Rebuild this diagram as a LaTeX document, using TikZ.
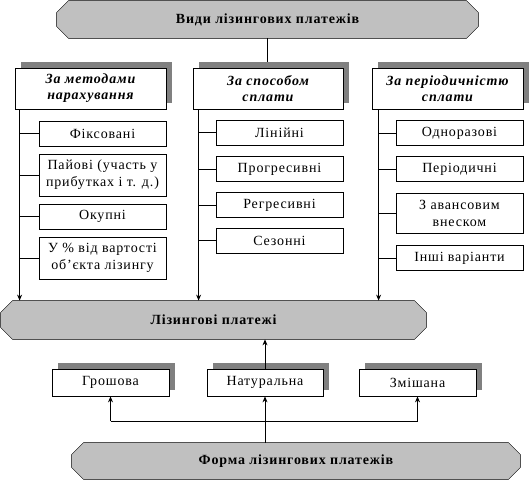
\documentclass[tikz,border=0pt]{standalone}
\usepackage{fontspec}
\setmainfont{Liberation Serif}[LetterSpace=6]
\usetikzlibrary{shadows,arrows.meta,calc,backgrounds}
\definecolor{octgray}{HTML}{C0C0C0}
\definecolor{shgray}{HTML}{808080}
\newcommand\octpath[1]{%
  \filldraw[fill=octgray,draw=black]
    ($(#1.north west)+(12,0)$) -- ($(#1.north east)+(-12,0)$) --
    ($(#1.north east)+(0,12)$) -- ($(#1.south east)+(0,-12)$) --
    ($(#1.south east)+(-12,0)$) -- ($(#1.south west)+(12,0)$) --
    ($(#1.south west)+(0,-12)$) -- ($(#1.north west)+(0,12)$) -- cycle;}
\begin{document}
\begin{tikzpicture}[x=1pt,y=-1pt,line width=0.8pt,
  octnode/.style={inner sep=0pt,font=\bfseries\fontsize{14}{16}\selectfont},
  box/.style={draw,fill=white,inner sep=0pt,align=center,font=\fontsize{14}{17}\selectfont},
  shbox/.style={box,drop shadow={shadow xshift=6pt,shadow yshift=6pt,fill=shgray,opacity=1}},
  hdr/.style={shbox,minimum height=41pt,font=\bfseries\itshape\fontsize{14}{16}\selectfont},
  sub/.style={box,minimum width=127pt,minimum height=25pt},
  dbl/.style={minimum height=42pt},
  form/.style={shbox,minimum height=27pt},
  arr/.style={-{Stealth[length=6pt,width=5pt]}}
]
\useasboundingbox (0,0) rectangle (530,481);

% top octagon
\node[octnode,minimum width=421pt,minimum height=37pt] (top) at (267.5,19.5) {Види лізингових платежів};

% category headers
\node[hdr,minimum width=151pt] (c1) at (90.5,88.5) {За методами\\нарахування};
\node[hdr,minimum width=150pt] (c2) at (268,88.5) {За способом\\сплати};
\node[hdr,minimum width=151pt] (c3) at (447.5,88.5) {За періодичністю\\сплати};

% column 1
\node[sub] (f1) at (102.5,133.5) {Фіксовані};
\node[sub,dbl] (f2) at (102.5,175) {Пайові (участь у\\прибутках і т. д.)};
\node[sub] (f3) at (102.5,216.5) {Окупні};
\node[sub,dbl] (f4) at (102.5,258) {У \% від вартості\\об’єкта лізингу};

% column 2
\node[sub] (s1) at (279.5,132.5) {Лінійні};
\node[sub] (s2) at (279.5,169) {Прогресивні};
\node[sub] (s3) at (279.5,205) {Регресивні};
\node[sub] (s4) at (279.5,240.5) {Сезонні};

% column 3
\node[sub] (p1) at (459.5,133) {Одноразові};
\node[sub] (p2) at (459.5,169) {Періодичні};
\node[sub,minimum height=40pt] (p3) at (459.5,213) {З авансовим\\внеском};
\node[sub] (p4) at (459.5,258) {Інші варіанти};

% lower part
\node[octnode,minimum width=425pt,minimum height=38pt] (lp) at (213.5,320) {Лізингові платежі};
\node[form,minimum width=117pt] (g1) at (110.5,382.5) {Грошова};
\node[form,minimum width=116pt] (g2) at (265,382.5) {Натуральна};
\node[form,minimum width=117pt] (g3) at (417.5,382.5) {Змішана};
\node[octnode,minimum width=448pt,minimum height=36pt] (forma) at (296,461) {Форма лізингових платежів};

\begin{scope}[on background layer]
  \octpath{top}
  \octpath{lp}
  \octpath{forma}
\end{scope}

% connectors top
\coordinate (c2sh) at ($(c2.north)+(0,-6)$);
\draw (top.south) -- (top.south |- c2sh);

\coordinate (t1) at ($(c1.south west)+(5,0)$);
\coordinate (t2) at ($(c2.south west)+(6,0)$);
\coordinate (t3) at ($(c3.south west)+(7,0)$);
\draw[arr] (t1) -- (t1 |- lp.north);
\draw[arr] (t2) -- (t2 |- lp.north);
\draw[arr] (t3) -- (t3 |- lp.north);

\foreach \b in {f1,f2,f3,f4} \draw (\b.west) -- (\b.west -| t1);
\foreach \b in {s1,s2,s3,s4} \draw (\b.west) -- (\b.west -| t2);
\foreach \b in {p1,p2,p3,p4} \draw (\b.west) -- (\b.west -| t3);

% connectors bottom
\draw[arr] (g2.north) -- (g2.north |- lp.south);
\draw[arr] (forma.north -| g2.south) -- (g2.south);
\coordinate (hb) at ($(g2.south)+(0,25)$);
\draw (hb -| g1.south) -- (hb -| g3.south);
\draw[arr] (hb -| g1.south) -- (g1.south);
\draw[arr] (hb -| g3.south) -- (g3.south);
\end{tikzpicture}
\end{document}
